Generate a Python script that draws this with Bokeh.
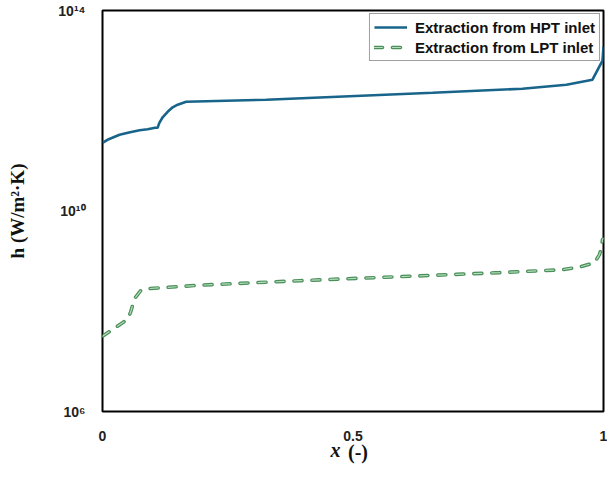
from bokeh.plotting import figure
from bokeh.models import (Range1d, FixedTicker, CustomJSTickFormatter, Legend,
                          LegendItem, LinearAxis)
from bokeh.embed import file_html
from bokeh.resources import INLINE

# HPT extraction curve
hpt_x = [0.0, 0.01, 0.034, 0.055, 0.074, 0.09, 0.105, 0.110, 0.113, 0.12, 0.13,
         0.14, 0.15, 0.167, 0.327, 0.493, 0.659, 0.838, 0.926, 0.978, 0.998, 1.0]
hpt_h = [2.29e11, 2.63e11, 3.31e11, 3.72e11, 4.07e11, 4.27e11, 4.57e11, 4.57e11,
         5.62e11, 7.41e11, 9.55e11, 1.17e12, 1.32e12, 1.51e12, 1.66e12, 1.95e12,
         2.29e12, 2.75e12, 3.31e12, 4.17e12, 1.0e13, 1.9e13]

# LPT extraction curve
lpt_x = [0.0, 0.05, 0.056, 0.064, 0.076, 0.090, 0.194, 0.393, 0.593, 0.792,
         0.919, 0.955, 0.982, 0.992, 0.996, 0.998, 1.0]
lpt_h = [3.16e7, 6.9e7, 9.5e7, 1.78e8, 2.57e8, 2.82e8, 3.31e8, 4.07e8, 4.9e8,
         5.89e8, 6.76e8, 7.76e8, 9.3e8, 1.35e9, 1.86e9, 2.7e9, 2.82e9]

y_ticks = [1e6, 1e10, 1e14]
x_ticks = [0, 0.5, 1]
labels = ["Extraction from HPT inlet", "Extraction from LPT inlet"]

p = figure(frame_width=501, frame_height=401,
           x_range=Range1d(0, 1), y_range=Range1d(1e6, 1e14),
           y_axis_type="log", output_backend="svg", toolbar_location=None,
           min_border_left=102, min_border_top=10, min_border_right=4,
           min_border_bottom=52)

p.xgrid.visible = False
p.ygrid.visible = False
p.outline_line_color = "black"
p.outline_line_width = 2
p.background_fill_color = "white"
p.border_fill_color = "white"

for ax in (p.xaxis[0], p.yaxis[0]):
    ax.axis_line_color = None
    ax.major_tick_line_color = None
    ax.minor_tick_line_color = None
    ax.major_label_text_font = "Liberation Sans"
    ax.major_label_text_font_style = "bold"
    ax.major_label_text_font_size = "14px"
    ax.major_label_text_color = "#222222"

p.xaxis.ticker = FixedTicker(ticks=x_ticks, minor_ticks=[])
p.xaxis.formatter = CustomJSTickFormatter(code="return tick == 0 ? '0' : (tick == 1 ? '1' : tick.toString());")
p.xaxis.major_label_standoff = 13
# italic bold "x" part of the x-axis title
p.xaxis.axis_label = "x" + "\u00a0" * 7
p.xaxis.axis_label_text_font = "Liberation Serif"
p.xaxis.axis_label_text_font_style = "bold italic"
p.xaxis.axis_label_text_font_size = "20px"
p.xaxis.axis_label_text_color = "#111111"
p.xaxis.axis_label_standoff = -5

# upright bold "(-)" part of the x-axis title, on the same line
ax2 = LinearAxis(ticker=FixedTicker(ticks=[], minor_ticks=[]),
                 axis_line_color=None, major_tick_line_color=None,
                 minor_tick_line_color=None, major_tick_out=0, major_tick_in=0,
                 major_label_standoff=0,
                 axis_label="\u00a0\u00a0(-)", axis_label_text_font="Liberation Serif",
                 axis_label_text_font_style="bold",
                 axis_label_text_font_size="20px",
                 axis_label_text_color="#111111",
                 axis_label_standoff=-23)
p.add_layout(ax2, "below")

p.yaxis.ticker = FixedTicker(ticks=y_ticks, minor_ticks=[])
p.yaxis.formatter = CustomJSTickFormatter(code="""
const e = Math.round(Math.log10(tick));
const sup = {'0':'\u2070','1':'\u00b9','2':'\u00b2','3':'\u00b3','4':'\u2074','5':'\u2075','6':'\u2076','7':'\u2077','8':'\u2078','9':'\u2079'};
return '10' + String(e).split('').map(c => sup[c]).join('');
""")
p.yaxis.major_label_standoff = 11
p.yaxis.axis_label = "h (W/m\u00b2\u00b7K)"
p.yaxis.axis_label_text_font = "Liberation Serif"
p.yaxis.axis_label_text_font_style = "bold"
p.yaxis.axis_label_text_font_size = "19px"
p.yaxis.axis_label_text_color = "#111111"
p.yaxis.axis_label_standoff = 27

r_hpt = p.line(hpt_x, hpt_h, line_color="#18648a", line_width=2.6)
r_lpt_o = p.line(lpt_x, lpt_h, line_color="#4a8f5a", line_width=3.6,
                 line_dash="8 10", line_cap="round")
r_lpt_i = p.line(lpt_x, lpt_h, line_color="#b5dcbc", line_width=1.2,
                 line_dash="8 10", line_cap="round")

legend = Legend(items=[LegendItem(label=labels[0], renderers=[r_hpt]),
                       LegendItem(label=labels[1], renderers=[r_lpt_o, r_lpt_i])],
                location="top_right")
legend.margin = 3
legend.padding = 4
legend.spacing = 2
legend.glyph_width = 33
legend.glyph_height = 18
legend.label_height = 18
legend.label_standoff = 8
legend.label_text_font = "Liberation Sans"
legend.label_text_font_style = "bold"
legend.label_text_font_size = "15px"
legend.label_text_color = "#111111"
legend.border_line_color = "#404040"
legend.border_line_width = 1
legend.background_fill_alpha = 1.0
p.add_layout(legend)

open("out.html", "w").write(file_html(p, INLINE))
